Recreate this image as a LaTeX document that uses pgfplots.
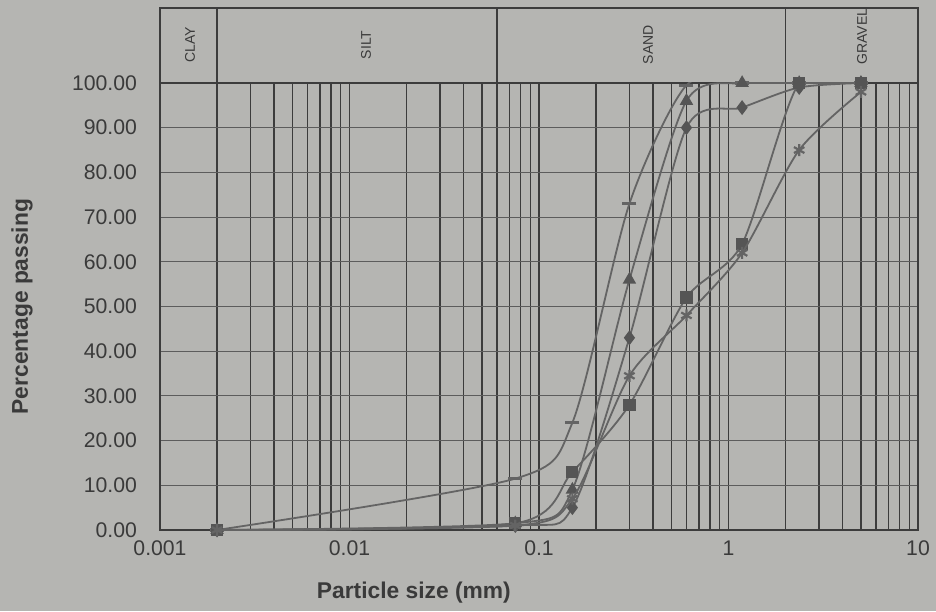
\documentclass[border=0pt]{standalone}
\usepackage{fontspec}
\setmainfont{Liberation Sans}
\usepackage{pgfplots}
\pgfplotsset{compat=1.18}
\usetikzlibrary{plotmarks}

\definecolor{bggray}{RGB}{181,181,178}
\definecolor{gridc}{RGB}{60,60,60}
\definecolor{hgrid}{RGB}{92,92,92}
\definecolor{curve}{RGB}{100,100,100}
\definecolor{markc}{RGB}{85,85,85}
\definecolor{txt}{RGB}{58,58,58}

\begin{document}
\begin{tikzpicture}
\fill[bggray] (0pt,0pt) rectangle (468pt,305.5pt);
\useasboundingbox (0pt,0pt) rectangle (468pt,305.5pt);

% soil classification band above the plot
\begin{axis}[
    at={(80pt,264pt)}, anchor=south west, scale only axis,
    width=379pt, height=37.5pt,
    xmode=log, xmin=0.001, xmax=10, ymin=0, ymax=1,
    xtick=\empty, ytick=\empty,
    axis line style={gridc, line width=0.7pt},
    clip=false,
]
\addplot[gridc, line width=0.7pt] coordinates {(0.002,0)(0.002,1)};
\addplot[gridc, line width=0.7pt] coordinates {(0.06,0)(0.06,1)};
\addplot[gridc, line width=0.7pt] coordinates {(2,0)(2,1)};
\node[rotate=90, font=\fontsize{7}{8}\selectfont, text=txt] at (rel axis cs:0.0396,0.51) {CLAY};
\node[rotate=90, font=\fontsize{7}{8}\selectfont, text=txt] at (rel axis cs:0.2718,0.51) {SILT};
\node[rotate=90, font=\fontsize{7}{8}\selectfont, text=txt] at (rel axis cs:0.6438,0.51) {SAND};
\node[rotate=90, font=\fontsize{7}{8}\selectfont, text=txt] at (rel axis cs:0.9261,0.62) {GRAVEL};
\end{axis}

\begin{axis}[
    at={(80pt,40.5pt)}, anchor=south west, scale only axis,
    width=379pt, height=223.5pt,
    xmode=log, log basis x=10,
    xmin=0.001, xmax=10, ymin=0, ymax=100,
    xtick={0.001,0.01,0.1,1,10},
    xticklabels={0.001,0.01,0.1,1,10},
    minor xtick={0.002,0.003,0.004,0.005,0.006,0.007,0.008,0.009,
                 0.02,0.03,0.04,0.05,0.06,0.07,0.08,0.09,
                 0.2,0.3,0.4,0.5,0.6,0.7,0.8,0.9,
                 2,3,4,5,6,7,8,9},
    ytick={0,10,...,100},
    /pgf/number format/assume math mode=true,
    /pgf/number format/fixed,
    /pgf/number format/fixed zerofill,
    /pgf/number format/precision=2,
    ticklabel style={font=\fontsize{10.6}{12}\selectfont, text=txt},
    yticklabel style={xshift=-8pt},
    xticklabel style={yshift=-2pt},
    major tick length=0pt, minor tick length=0pt,
    xmajorgrids, xminorgrids, ymajorgrids,
    x grid style={gridc, line width=0.65pt},
    y grid style={hgrid, line width=0.5pt},
    axis line style={gridc, line width=0.7pt},
    xlabel={\textbf{Particle size (mm)}},
    ylabel={\textbf{Percentage passing}},
    label style={font=\fontsize{11.4}{13}\selectfont, text=txt},
    xlabel style={at={(axis description cs:0.335,-0.141)}, anchor=center},
    ylabel style={at={(axis description cs:-0.182,0.5)}, anchor=center},
    clip mode=individual,
    every axis plot/.append style={smooth, tension=0.45, curve, line width=0.9pt,
        mark options={fill=markc, draw=markc, solid}},
]
% series with dash marker
\addplot[mark=-, mark size=3.5pt, mark options={line width=1.6pt}] coordinates {
    (0.002,0)(0.075,11.5)(0.15,24)(0.3,73)(0.6,99.5)(1.18,100)(2.36,100)(5,100)
};
% triangle
\addplot[mark=triangle*, mark size=3pt] coordinates {
    (0.002,0)(0.075,1.5)(0.15,9)(0.3,56)(0.6,96)(1.18,100)(2.36,100)(5,100)
};
% diamond
\addplot[mark=diamond*, mark size=3pt] coordinates {
    (0.002,0)(0.075,1)(0.15,5)(0.3,43)(0.6,90)(1.18,94.5)(2.36,99)(5,100)
};
% square
\addplot[mark=square*, mark size=2.6pt] coordinates {
    (0.002,0)(0.075,1.5)(0.15,13)(0.3,28)(0.6,52)(1.18,64)(2.36,100)(5,100)
};
% asterisk
\addplot[mark=asterisk, mark size=3pt, mark options={line width=1.1pt}] coordinates {
    (0.002,0)(0.075,1)(0.15,7)(0.3,34.5)(0.6,48)(1.18,62)(2.36,85)(5,98)
};
\end{axis}
\end{tikzpicture}
\end{document}
